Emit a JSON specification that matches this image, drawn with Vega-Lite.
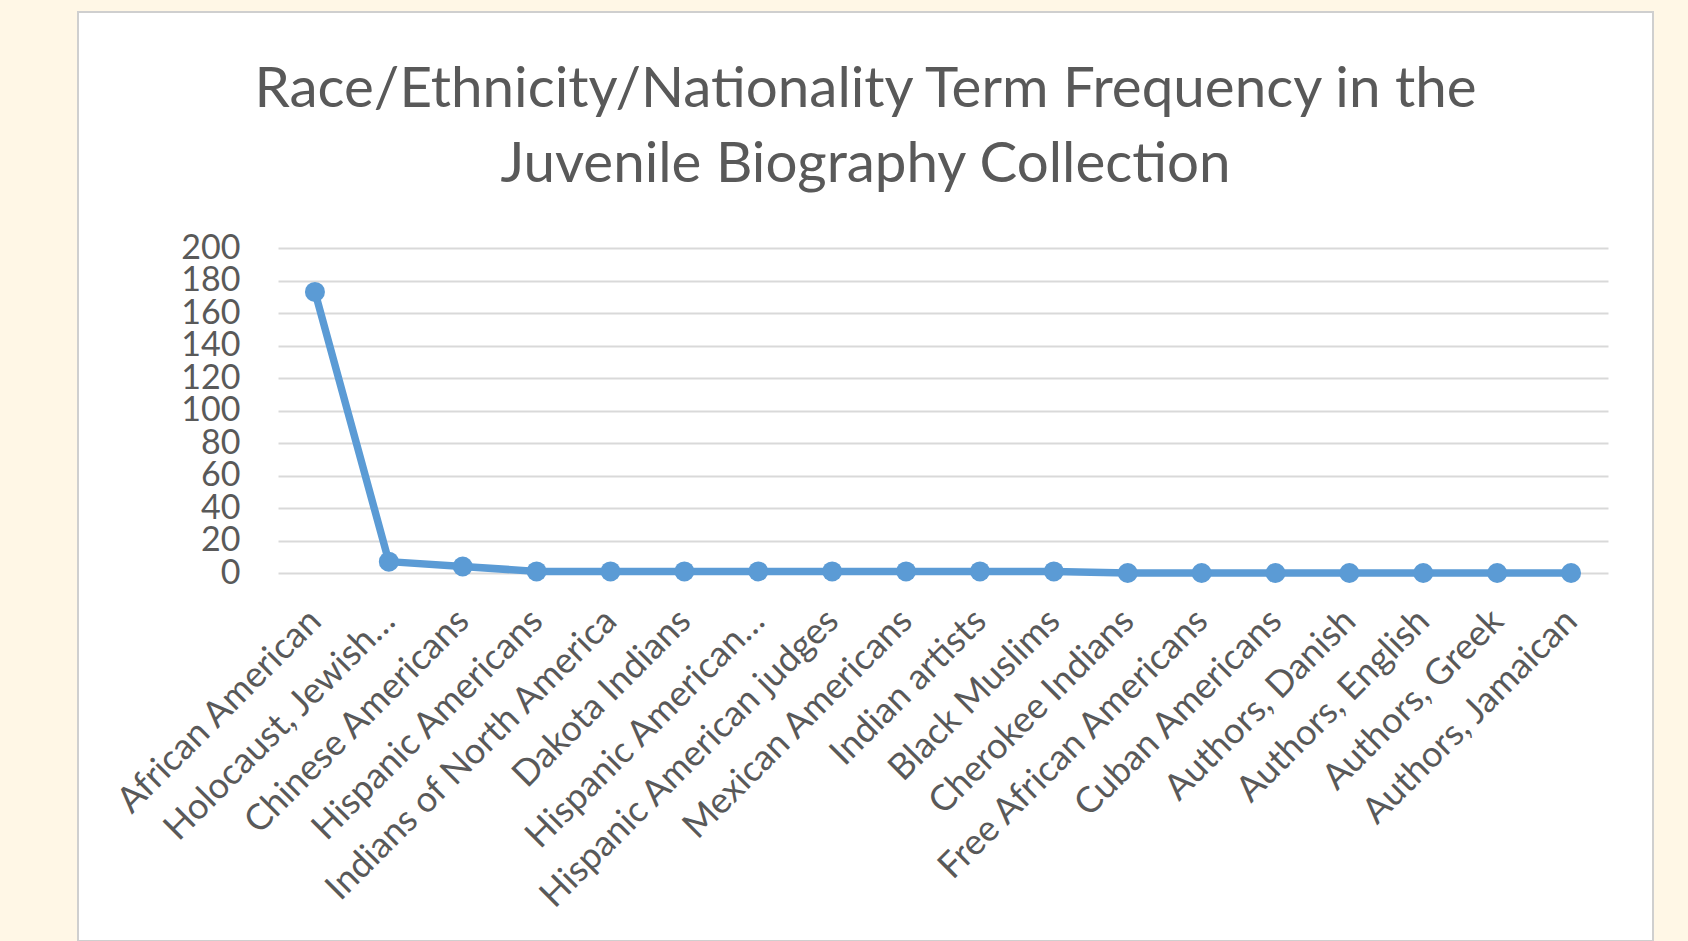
{
  "$schema": "https://vega.github.io/schema/vega-lite/v6.json",
  "width": 1575,
  "height": 929,
  "autosize": {"type": "none"},
  "padding": {"left": 78, "top": 12, "right": 35, "bottom": 0},
  "background": "#FFF7E6",
  "title": {
    "text": ["Race/Ethnicity/Nationality Term Frequency in the", "Juvenile Biography Collection"],
    "font": "Lato",
    "fontSize": 56.5,
    "fontWeight": "normal",
    "color": "#595959",
    "anchor": "middle",
    "frame": "group",
    "lineHeight": 75,
    "baseline": "top",
    "offset": -181
  },
  "data": {
    "values": [
      {"term": "African American", "count": 173},
      {"term": "Holocaust, Jewish…", "count": 7},
      {"term": "Chinese Americans", "count": 4},
      {"term": "Hispanic Americans", "count": 1},
      {"term": "Indians of North America", "count": 1},
      {"term": "Dakota Indians", "count": 1},
      {"term": "Hispanic American…", "count": 1},
      {"term": "Hispanic American judges", "count": 1},
      {"term": "Mexican Americans", "count": 1},
      {"term": "Indian artists", "count": 1},
      {"term": "Black Muslims", "count": 1},
      {"term": "Cherokee Indians", "count": 0},
      {"term": "Free African Americans", "count": 0},
      {"term": "Cuban Americans", "count": 0},
      {"term": "Authors, Danish", "count": 0},
      {"term": "Authors, English", "count": 0},
      {"term": "Authors, Greek", "count": 0},
      {"term": "Authors, Jamaican", "count": 0}
    ]
  },
  "encoding": {
    "x": {
      "field": "term",
      "type": "nominal",
      "sort": null,
      "title": null,
      "scale": {"type": "point", "range": [200, 1530], "padding": 0.5},
      "axis": {
        "offset": -368,
        "labelAngle": -45,
        "labelAlign": "right",
        "labelBaseline": "middle",
        "labelPadding": 42,
        "labelFont": "Lato",
        "labelFontSize": 36,
        "labelColor": "#595959",
        "labelLimit": 1000,
        "labelOverlap": false,
        "domain": false,
        "ticks": false,
        "grid": false
      }
    },
    "y": {
      "field": "count",
      "type": "quantitative",
      "title": null,
      "scale": {"domain": [0, 200], "range": [561, 236], "nice": false, "zero": true},
      "axis": {
        "values": [0, 20, 40, 60, 80, 100, 120, 140, 160, 180, 200],
        "offset": -200,
        "labelPadding": 38,
        "labelFont": "Lato",
        "labelFontSize": 34,
        "labelColor": "#595959",
        "labelOverlap": false,
        "domain": false,
        "ticks": false,
        "grid": true,
        "gridColor": "#D9D9D9",
        "gridWidth": 2
      }
    }
  },
  "layer": [
    {"mark": {"type": "line", "color": "#5B9BD5", "strokeWidth": 7.5, "strokeJoin": "round"}},
    {"mark": {"type": "point", "filled": true, "size": 400, "color": "#5B9BD5", "opacity": 1}}
  ],
  "config": {
    "font": "Lato",
    "view": {"fill": "white", "stroke": "#CFCFCF", "strokeWidth": 2}
  }
}
